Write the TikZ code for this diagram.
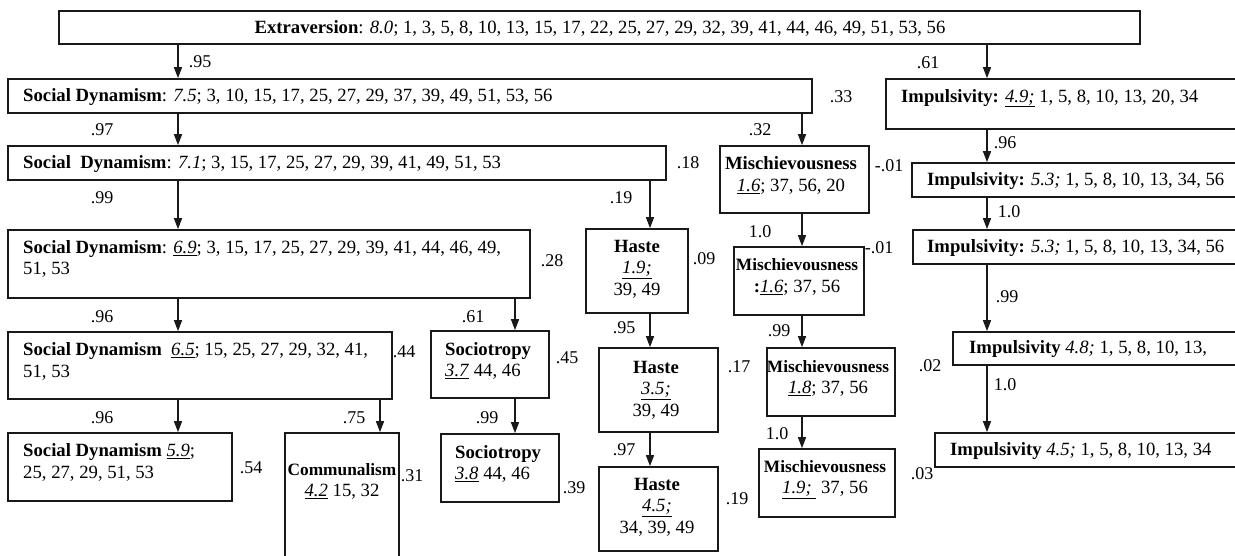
\documentclass[tikz,border=0pt]{standalone}
\usepackage{fontspec}
\setmainfont{Liberation Serif}
\usetikzlibrary{arrows.meta}

\newcommand{\narrowhead}[1]{{\fontsize{17.3}{21}\selectfont\textbf{#1}}}

\begin{document}
\begin{tikzpicture}[
  x=1pt, y=-1pt,
  box/.style={draw=black!90, line width=1.7pt, inner sep=0pt},
  txt/.style={inner sep=0pt, font=\fontsize{18.7}{21.5}\selectfont},
  coef/.style={inner sep=0pt, font=\fontsize{18}{21}\selectfont},
  arr/.style={draw=black!90, line width=1.5pt, -{Triangle[length=11pt, width=8pt]}}
]
  \clip (0,0) rectangle (1235,555);

  % ==========================================
  % 1. BOXES
  % ==========================================
  \node[box, minimum width=1081pt, minimum height=33pt] (ext) at (599.5,27.5) {};

  % Social Dynamism chain
  \node[box, minimum width=804pt, minimum height=34pt] (sd1) at (410,96) {};
  \node[box, minimum width=658pt, minimum height=34pt] (sd2) at (337,163) {};
  \node[box, minimum width=522pt, minimum height=68pt] (sd3) at (269,264) {};
  \node[box, minimum width=384pt, minimum height=67pt] (sd4) at (200,365.5) {};
  \node[box, minimum width=224pt, minimum height=68pt] (sd5) at (120,467) {};
  \node[box, minimum width=114pt, minimum height=142pt] (comm) at (342,504) {};

  % Sociotropy
  \node[box, minimum width=118pt, minimum height=67pt] (soc1) at (490,364.5) {};
  \node[box, minimum width=118pt, minimum height=68pt] (soc2) at (500,468) {};

  % Haste
  \node[box, minimum width=102pt, minimum height=84pt] (haste1) at (637,271) {};
  \node[box, minimum width=119pt, minimum height=84pt] (haste2) at (658.5,390) {};
  \node[box, minimum width=119pt, minimum height=84pt] (haste3) at (658.5,509) {};

  % Mischievousness
  \node[box, minimum width=149pt, minimum height=67pt] (misch1) at (794.5,179.5) {};
  \node[box, minimum width=130pt, minimum height=68pt] (misch2) at (799,281) {};
  \node[box, minimum width=128pt, minimum height=68pt] (misch3) at (831,382) {};
  \node[box, minimum width=136pt, minimum height=68pt] (misch4) at (827,483) {};

  % Impulsivity (cut at the right edge)
  \node[box, minimum width=364pt, minimum height=50pt] (imp1) at (1068,104) {};
  \node[box, minimum width=338pt, minimum height=34pt] (imp2) at (1081,180) {};
  \node[box, minimum width=337pt, minimum height=34pt] (imp3) at (1081.5,247) {};
  \node[box, minimum width=297pt, minimum height=33pt] (imp4) at (1101.5,348.5) {};
  \node[box, minimum width=315pt, minimum height=34pt] (imp5) at (1092.5,450) {};

  % ==========================================
  % 2. TEXTS
  % ==========================================
  \node[txt] (ext-t) at (600,28) {\textbf{Extraversion}: \textit{8.0}; 1, 3, 5, 8, 10, 13, 15, 17, 22, 25, 27, 29, 32, 39, 41, 44, 46, 49, 51, 53, 56};

  \node[txt, anchor=west] (sd1-t) at (23,97) {\textbf{Social Dynamism}: \textit{7.5}; 3, 10, 15, 17, 25, 27, 29, 37, 39, 49, 51, 53, 56};
  \node[txt, anchor=west] (sd2-t) at (23,164) {\textbf{Social\ \ Dynamism}: \textit{7.1}; 3, 15, 17, 25, 27, 29, 39, 41, 49, 51, 53};
  \node[txt, anchor=west, align=left] (sd3-t) at (23,259) {\textbf{Social Dynamism}: \underline{\textit{6.9}}; 3, 15, 17, 25, 27, 29, 39, 41, 44, 46, 49,\\51, 53};
  \node[txt, anchor=west, align=left] (sd4-t) at (23,361.5) {\textbf{Social Dynamism}\ \ \underline{\textit{6.5}}; 15, 25, 27, 29, 32, 41,\\51, 53};
  \node[txt, anchor=west, align=left] (sd5-t) at (23,462.5) {\textbf{Social Dynamism} \underline{\textit{5.9}};\\25, 27, 29, 51, 53};
  \node[txt, align=center] (comm-t) at (342,481.5) {\narrowhead{Communalism}\\\underline{\textit{4.2}} 15, 32};

  \node[txt, anchor=west, align=left] (soc1-t) at (445,361) {\textbf{Sociotropy}\\\underline{\textit{3.7}} 44, 46};
  \node[txt, anchor=west, align=left] (soc2-t) at (455,464) {\textbf{Sociotropy}\\\underline{\textit{3.8}} 44, 46};

  \node[txt, align=center] (haste1-t) at (637,269) {\textbf{Haste}\\\underline{\textit{1.9;}}\\39, 49};
  \node[txt, align=center] (haste2-t) at (656,390) {\textbf{Haste}\\\underline{\textit{3.5;}}\\39, 49};
  \node[txt, align=center] (haste3-t) at (657,507) {\textbf{Haste}\\\underline{\textit{4.5;}}\\34, 39, 49};

  \node[txt, align=center] (misch1-t) at (791,175.5) {\textbf{Mischievousness}\\\underline{\textit{1.6}}; 37, 56, 20};
  \node[txt, align=center] (misch2-t) at (797,277) {\narrowhead{Mischievousness}\\\textbf{:}\underline{\textit{1.6}}; 37, 56};
  \node[txt, align=center] (misch3-t) at (828,378.5) {\narrowhead{Mischievousness}\\\underline{\textit{1.8}}; 37, 56};
  \node[txt, align=center] (misch4-t) at (825,479.5) {\narrowhead{Mischievousness}\\\underline{\textit{1.9;}\ } 37, 56};

  \node[txt, anchor=west] (imp1-t) at (901,98) {\textbf{Impulsivity:} \underline{\textit{4.9;}} 1, 5, 8, 10, 13, 20, 34};
  \node[txt, anchor=west] (imp2-t) at (927,181) {\textbf{Impulsivity:} \textit{5.3;} 1, 5, 8, 10, 13, 34, 56};
  \node[txt, anchor=west] (imp3-t) at (927,248) {\textbf{Impulsivity:} \textit{5.3;} 1, 5, 8, 10, 13, 34, 56};
  \node[txt, anchor=west] (imp4-t) at (969,349) {\textbf{Impulsivity} \textit{4.8;} 1, 5, 8, 10, 13,};
  \node[txt, anchor=west] (imp5-t) at (950,451) {\textbf{Impulsivity} \textit{4.5;} 1, 5, 8, 10, 13, 34};

  % ==========================================
  % 3. ARROWS
  % ==========================================
  \coordinate (col-sd) at (178,0);
  \coordinate (col-comm) at (380,0);
  \coordinate (col-soc) at (515,0);
  \coordinate (col-haste) at (650,0);
  \coordinate (col-misch) at (802,0);
  \coordinate (col-imp) at (987,0);

  \draw[arr] (ext.south -| col-sd) -- (sd1.north -| col-sd);
  \draw[arr] (sd1.south -| col-sd) -- (sd2.north -| col-sd);
  \draw[arr] (sd2.south -| col-sd) -- (sd3.north -| col-sd);
  \draw[arr] (sd3.south -| col-sd) -- (sd4.north -| col-sd);
  \draw[arr] (sd4.south -| col-sd) -- (sd5.north -| col-sd);
  \draw[arr] (sd4.south -| col-comm) -- (comm.north -| col-comm);

  \draw[arr] (sd3.south -| col-soc) -- (soc1.north -| col-soc);
  \draw[arr] (soc1.south -| col-soc) -- (soc2.north -| col-soc);

  \draw[arr] (sd2.south -| col-haste) -- (haste1.north -| col-haste);
  \draw[arr] (haste1.south -| col-haste) -- (haste2.north -| col-haste);
  \draw[arr] (haste2.south -| col-haste) -- (haste3.north -| col-haste);

  \draw[arr] (sd1.south -| col-misch) -- (misch1.north -| col-misch);
  \draw[arr] (misch1.south -| col-misch) -- (misch2.north -| col-misch);
  \draw[arr] (misch2.south -| col-misch) -- (misch3.north -| col-misch);
  \draw[arr] (misch3.south -| col-misch) -- (misch4.north -| col-misch);

  \draw[arr] (ext.south -| col-imp) -- (imp1.north -| col-imp);
  \draw[arr] (imp1.south -| col-imp) -- (imp2.north -| col-imp);
  \draw[arr] (imp2.south -| col-imp) -- (imp3.north -| col-imp);
  \draw[arr] (imp3.south -| col-imp) -- (imp4.north -| col-imp);
  \draw[arr] (imp4.south -| col-imp) -- (imp5.north -| col-imp);

  % ==========================================
  % 4. COEFFICIENTS
  % ==========================================
  \node[coef] (c-sd1) at (200,62) {.95};
  \node[coef] (c-imp1) at (928,63) {.61};
  \node[coef] (r-sd1) at (841,97) {.33};
  \node[coef] (c-sd2) at (102,130) {.97};
  \node[coef] (c-misch1) at (760,130) {.32};
  \node[coef] (c-imp2) at (1005,143) {.96};
  \node[coef] (r-sd2) at (688,163) {.18};
  \node[coef] (r-misch1) at (889,166) {-.01};
  \node[coef] (c-sd3) at (102,198) {.99};
  \node[coef] (c-haste1) at (621,198) {.19};
  \node[coef] (c-imp3) at (1009,212) {1.0};
  \node[coef] (c-misch2) at (760,232) {1.0};
  \node[coef] (r-misch2) at (879,248) {-.01};
  \node[coef] (r-sd3) at (552,261) {.28};
  \node[coef] (r-haste1) at (704,259) {.09};
  \node[coef] (c-imp4) at (1007,297) {.99};
  \node[coef] (c-sd4) at (102,317) {.96};
  \node[coef] (c-soc1) at (473,317) {.61};
  \node[coef] (c-haste2) at (624,328) {.95};
  \node[coef] (c-misch3) at (779,331) {.99};
  \node[coef] (r-sd4) at (404,352) {.44};
  \node[coef] (r-soc1) at (567,358) {.45};
  \node[coef] (r-imp4) at (930,366) {.02};
  \node[coef] (r-haste2) at (739,367) {.17};
  \node[coef] (c-imp5) at (1005,385) {1.0};
  \node[coef] (c-sd5) at (102,418) {.96};
  \node[coef] (c-comm) at (354,418) {.75};
  \node[coef] (c-soc2) at (487,418) {.99};
  \node[coef] (c-misch4) at (777,434) {1.0};
  \node[coef] (c-haste3) at (624,450) {.97};
  \node[coef] (r-sd5) at (251,468) {.54};
  \node[coef] (r-imp5) at (922,474) {.03};
  \node[coef] (r-comm) at (412,476) {.31};
  \node[coef] (r-soc2) at (574,488) {.39};
  \node[coef] (r-haste3) at (737,499) {.19};

\end{tikzpicture}
\end{document}
